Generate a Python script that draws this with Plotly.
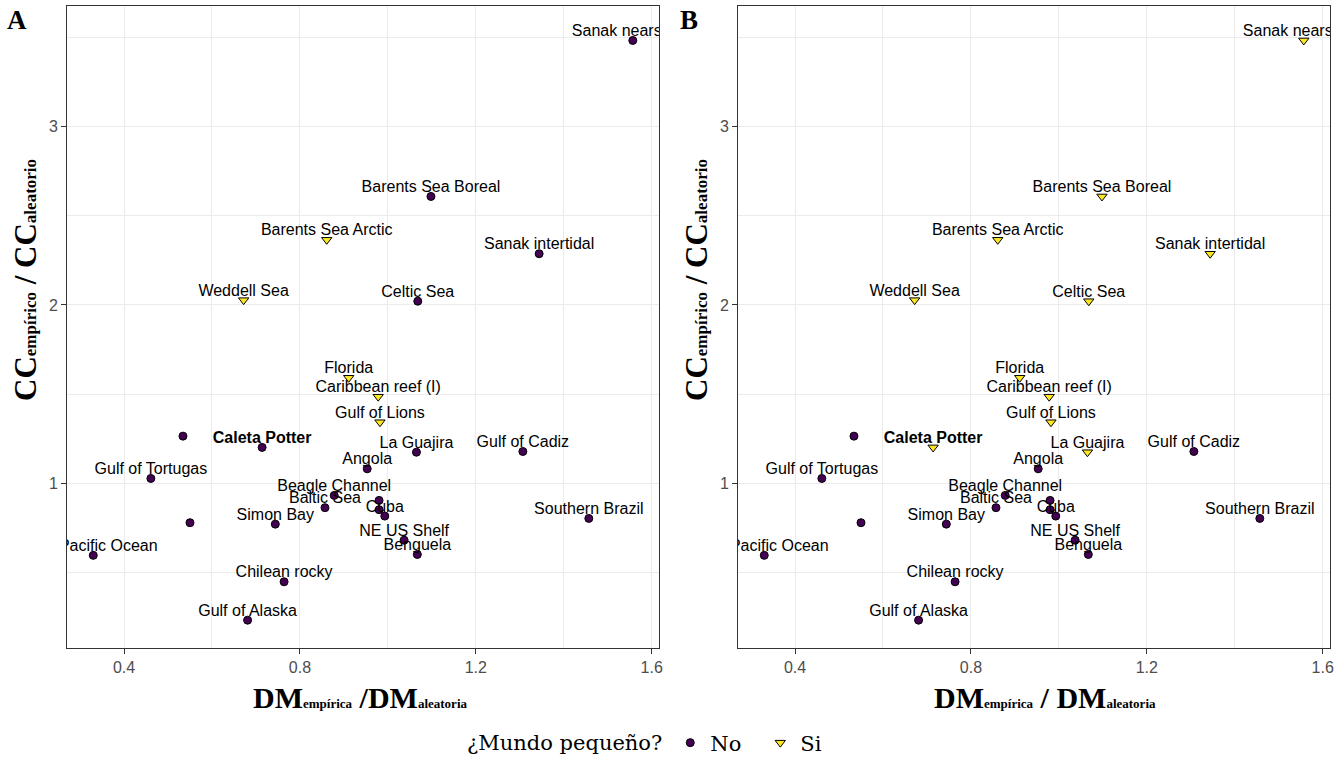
import plotly.graph_objects as go

# ---- data -------------------------------------------------------------
sites = [
    "Sanak nearshore", "Barents Sea Boreal", "Barents Sea Arctic", "Sanak intertidal",
    "Weddell Sea", "Celtic Sea", "Florida", "Caribbean reef (I)", "Gulf of Lions",
    "", "Caleta Potter", "La Guajira", "Gulf of Cadiz", "Angola", "Gulf of Tortugas",
    "Beagle Channel", "Baltic Sea", "", "", "Cuba", "Southern Brazil", "",
    "Simon Bay", "NE US Shelf", "Benguela", "Pacific Ocean", "Chilean rocky",
    "Gulf of Alaska",
]
dm_ratio = [
    1.557, 1.098, 0.861, 1.344, 0.672, 1.068, 0.911, 0.978, 0.982,
    0.534, 0.714, 1.065, 1.307, 0.953, 0.461,
    0.878, 0.857, 0.980, 0.980, 0.993, 1.457, 0.550,
    0.744, 1.037, 1.067, 0.330, 0.764, 0.681,
]
cc_ratio = [
    3.482, 2.608, 2.365, 2.287, 2.027, 2.021, 1.592, 1.486, 1.343,
    1.265, 1.202, 1.175, 1.179, 1.082, 1.028,
    0.933, 0.864, 0.905, 0.853, 0.817, 0.804, 0.780,
    0.772, 0.682, 0.602, 0.597, 0.449, 0.234,
]
small_world_a = [
    "No", "No", "Si", "No", "Si", "No", "Si", "Si", "Si",
    "No", "No", "No", "No", "No", "No",
    "No", "No", "No", "No", "No", "No", "No",
    "No", "No", "No", "No", "No", "No",
]
small_world_b = [
    "Si", "Si", "Si", "Si", "Si", "Si", "Si", "Si", "Si",
    "No", "Si", "Si", "No", "No", "No",
    "No", "No", "No", "No", "No", "No", "No",
    "No", "No", "No", "No", "No", "No",
]
highlight_site = "Caleta Potter"
x_ticks = [0.4, 0.8, 1.2, 1.6]
y_ticks = [1, 2, 3]

# ---- geometry / style -------------------------------------------------
W, H = 1343, 763
M_L, M_R, M_T, M_B = 67, 13, 6, 115
PLOT_W = W - M_L - M_R
PLOT_H = H - M_T - M_B
PANEL_W = 592
X_RANGE = [0.2703, 1.6166]
Y_RANGE = [0.078, 3.675]
PX_PER_X = PANEL_W / (X_RANGE[1] - X_RANGE[0])
PX_PER_Y = PLOT_H / (Y_RANGE[1] - Y_RANGE[0])

# label placement (pixels, relative to the point)
label_dx = {"Pacific Ocean": 15}
label_dy_default = 8.5

PURPLE = "#440154"
YELLOW = "#FDE725"
SANS = "Liberation Sans"
SERIF = "Liberation Serif"
LEGEND_SERIF = "DejaVu Serif"
GRID = "#EBEBEB"
FRAME = "#333333"

style = {
    "No": dict(symbol="circle", color=PURPLE, size=8),
    "Si": dict(symbol="triangle-down", color=YELLOW, size=9),
}


def px_to_paper_x(px):
    return (px - M_L) / PLOT_W


def px_to_paper_y(py):
    return (M_T + PLOT_H - py) / PLOT_H


fig = go.Figure()

panels = [("x", "y", small_world_a, True), ("x2", "y2", small_world_b, False)]
for xa, ya, groups, show_leg in panels:
    for grp in ["No", "Si"]:
        idx = [i for i, g in enumerate(groups) if g == grp]
        st = style[grp]
        fig.add_trace(go.Scatter(
            x=[dm_ratio[i] for i in idx],
            y=[cc_ratio[i] for i in idx],
            mode="markers",
            name=grp,
            legendgroup=grp,
            showlegend=show_leg,
            marker=dict(symbol=st["symbol"], color=st["color"], size=st["size"],
                        line=dict(color="black", width=1)),
            xaxis=xa, yaxis=ya,
            hoverinfo="skip",
        ))
    # site labels
    lab_idx = [i for i, s in enumerate(sites) if s]
    lx = [dm_ratio[i] + label_dx.get(sites[i], 0) / PX_PER_X for i in lab_idx]
    ly = [cc_ratio[i] + label_dy_default / PX_PER_Y for i in lab_idx]
    lt = [f"<b>{sites[i]}</b>" if sites[i] == highlight_site else sites[i] for i in lab_idx]
    fig.add_trace(go.Scatter(
        x=lx, y=ly, text=lt, mode="text", textposition="middle center",
        textfont=dict(family=SANS, size=16, color="black"),
        cliponaxis=True, showlegend=False, hoverinfo="skip",
        xaxis=xa, yaxis=ya,
    ))

axis_common = dict(
    showgrid=True, gridcolor=GRID, gridwidth=1.4,
    showline=True, linecolor=FRAME, linewidth=1, mirror=True,
    ticks="outside", ticklen=5, tickcolor=FRAME, tickwidth=1,
    tickfont=dict(family=SANS, size=16, color="#4D4D4D"),
    zeroline=False,
)
xaxis_cfg = dict(axis_common, range=X_RANGE, tickvals=x_ticks,
                 ticktext=[f"{v:.1f}" for v in x_ticks],
                 minor=dict(tickvals=[0.6, 1.0, 1.4], showgrid=True, gridcolor=GRID,
                            gridwidth=0.9, ticks=""))
yaxis_cfg = dict(axis_common, range=Y_RANGE, tickvals=y_ticks,
                 ticktext=[str(v) for v in y_ticks],
                 minor=dict(tickvals=[0.5, 1.5, 2.5, 3.5], showgrid=True, gridcolor=GRID,
                            gridwidth=0.9, ticks=""))

dom_a = [0, PANEL_W / PLOT_W]
dom_b = [px_to_paper_x(738), 1]

fig.update_layout(
    width=W, height=H,
    margin=dict(l=M_L, r=M_R, t=M_T, b=M_B, autoexpand=False),
    paper_bgcolor="white", plot_bgcolor="white",
    xaxis=dict(xaxis_cfg, domain=dom_a, anchor="y"),
    yaxis=dict(yaxis_cfg, domain=[0, 1], anchor="x"),
    xaxis2=dict(xaxis_cfg, domain=dom_b, anchor="y2"),
    yaxis2=dict(yaxis_cfg, domain=[0, 1], anchor="x2"),
    legend=dict(
        orientation="h",
        x=px_to_paper_x(465), xanchor="left",
        y=px_to_paper_y(743), yanchor="middle",
        font=dict(family=LEGEND_SERIF, size=21, color="black"),
        title=dict(text="¿Mundo pequeño?", font=dict(family=LEGEND_SERIF, size=21, color="black")),
        bgcolor="rgba(0,0,0,0)",
        itemwidth=30,
        entrywidth=45, entrywidthmode="pixels",
    ),
)

SUB_X = "<span style='font-size:13px'>{}</span>"
SUB_Y = "<span style='font-size:17px'>{}</span>"
x_title_a = "<b>DM" + SUB_X.format("empírica") + " /DM" + SUB_X.format("aleatoria") + "</b>"
x_title_b = "<b>DM" + SUB_X.format("empírica") + " / DM" + SUB_X.format("aleatoria") + "</b>"
y_title = "<b>CC" + SUB_Y.format("empírico") + " / CC" + SUB_Y.format("aleatorio") + "</b>"

title_font = dict(family=SERIF, size=30, color="black")
y_title_font = dict(family=SERIF, size=31, color="black")
annotations = [
    dict(text=x_title_a, x=px_to_paper_x(360), y=px_to_paper_y(697),
         xref="paper", yref="paper", showarrow=False, font=title_font,
         xanchor="center", yanchor="middle"),
    dict(text=x_title_b, x=px_to_paper_x(1045), y=px_to_paper_y(697),
         xref="paper", yref="paper", showarrow=False, font=title_font,
         xanchor="center", yanchor="middle"),
    dict(text=y_title, x=px_to_paper_x(25), y=px_to_paper_y(280),
         xref="paper", yref="paper", showarrow=False, font=y_title_font,
         textangle=-90, xanchor="center", yanchor="middle"),
    dict(text=y_title, x=px_to_paper_x(696), y=px_to_paper_y(280),
         xref="paper", yref="paper", showarrow=False, font=y_title_font,
         textangle=-90, xanchor="center", yanchor="middle"),
    dict(text="<b>A</b>", x=px_to_paper_x(17), y=px_to_paper_y(20),
         xref="paper", yref="paper", showarrow=False,
         font=dict(family=SERIF, size=27, color="black"),
         xanchor="center", yanchor="middle"),
    dict(text="<b>B</b>", x=px_to_paper_x(689), y=px_to_paper_y(20),
         xref="paper", yref="paper", showarrow=False,
         font=dict(family=SERIF, size=27, color="black"),
         xanchor="center", yanchor="middle"),
]
fig.update_layout(annotations=annotations)

fig.write_html("out.html")
